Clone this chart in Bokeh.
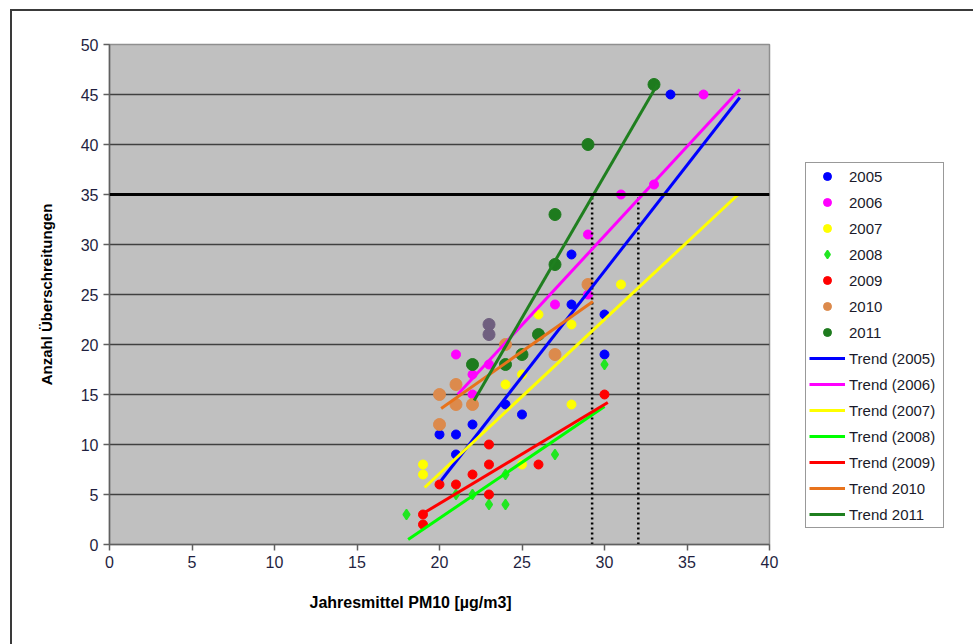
import math
from bokeh.plotting import figure
from bokeh.models import (Range1d, FixedTicker, Span, Legend, LegendItem, Title)
from bokeh.embed import file_html
from bokeh.resources import INLINE

# ---------------- data ----------------
years = ["2005", "2006", "2007", "2008", "2009", "2010", "2011"]

x2005 = [20, 21, 21, 22, 24, 25, 28, 28, 30, 30, 34]
y2005 = [11, 11, 9, 12, 14, 13, 24, 29, 23, 19, 45]
x2006 = [21, 22, 22, 23, 27, 29, 29, 31, 33, 36]
y2006 = [19, 17, 15, 18, 24, 31, 25, 35, 36, 45]
x2007 = [19, 19, 24, 25, 25, 26, 28, 28, 31]
y2007 = [8, 7, 16, 17, 8, 23, 22, 14, 26]
x2008 = [18, 21, 22, 23, 24, 24, 27, 30]
y2008 = [3, 5, 5, 4, 4, 7, 9, 18]
x2009 = [19, 19, 20, 21, 22, 23, 23, 23, 26, 30]
y2009 = [3, 2, 6, 6, 7, 8, 10, 5, 8, 15]
x2010 = [20, 20, 21, 21, 22, 24, 27, 29]
y2010 = [15, 12, 16, 14, 14, 20, 19, 26]
x2011 = [22, 24, 25, 26, 27, 27, 29, 33]
y2011 = [18, 18, 19, 21, 28, 33, 40, 46]
# 2011 points overlapping 2006 points (mixed colour in the original)
x_overlap = [23, 23]
y_overlap = [22, 21]

trend_labels = ["Trend (2005)", "Trend (2006)", "Trend (2007)", "Trend (2008)",
                "Trend (2009)", "Trend 2010", "Trend 2011"]
trend_x0 = [20.1, 21.1, 19.1, 18.1, 19.1, 20.1, 22.1]
trend_y0 = [6.4, 15.0, 5.7, 0.5, 3.2, 13.6, 14.4]
trend_x1 = [38.2, 38.2, 38.1, 30.0, 30.2, 29.3, 33.2]
trend_y1 = [44.7, 45.5, 35.0, 13.8, 14.2, 24.3, 46.0]

limit_value = 35
crossing_x = [29.25, 32.05]

x_ticks = [0, 5, 10, 15, 20, 25, 30, 35, 40]
y_ticks = [0, 5, 10, 15, 20, 25, 30, 35, 40, 45, 50]

x_title = "Jahresmittel  PM10 [µg/m3]"
y_title = "Anzahl Überschreitungen"

# ---------------- styles ----------------
FONT = "Liberation Sans"
point_colors = ["#0000ff", "#ff00ff", "#ffff00", "#22e622", "#ff0000", "#dc8a4c", "#1e7b1e"]
trend_colors = ["#0000ff", "#ff00ff", "#ffff00", "#00ff00", "#ff0000", "#e8731c", "#1f7f1f"]
overlap_color = "#6f5f7f"

p = figure(frame_width=660, frame_height=500, output_backend="svg", toolbar_location=None,
           x_range=Range1d(0, 40), y_range=Range1d(0, 50))
p.styles = {"margin-left": "10px", "margin-top": "9px",
            "border-left": "2px solid #3a3a3a", "border-top": "2px solid #3a3a3a"}
p.min_border_left = 97
p.min_border_right = 10
p.min_border_top = 33
p.min_border_bottom = 100
p.background_fill_color = "#c0c0c0"
p.border_fill_color = "white"
p.outline_line_color = "#8f8f8f"
p.outline_line_width = 1.5

p.xgrid.visible = False
p.ygrid.ticker = FixedTicker(ticks=y_ticks)
p.ygrid.grid_line_color = "#404040"
p.ygrid.grid_line_width = 1.5

for ax, ticks in ((p.xaxis[0], x_ticks), (p.yaxis[0], y_ticks)):
    ax.ticker = FixedTicker(ticks=ticks)
    ax.major_label_text_font = FONT
    ax.major_label_text_font_size = "16px"
    ax.major_label_text_color = "#1f1f3f"
    ax.axis_line_color = "#606060"
    ax.axis_line_width = 1.5
    ax.major_tick_line_color = "#606060"
    ax.major_tick_line_width = 1.5
    ax.major_tick_out = 6
    ax.major_tick_in = 0
    ax.minor_tick_line_color = None
    ax.major_label_standoff = 5

# ---------------- points ----------------
xs = [x2005, x2006, x2007, x2008, x2009, x2010, x2011]
ys = [y2005, y2006, y2007, y2008, y2009, y2010, y2011]
point_renderers = []
for i, (xv, yv) in enumerate(zip(xs, ys)):
    if years[i] == "2008":
        r = p.scatter(xv, yv, marker="diamond", size=10,
                      fill_color=point_colors[i], line_color=point_colors[i],
                      line_width=1.5)
    else:
        sz = 12 if years[i] in ("2010", "2011") else 9
        r = p.scatter(xv, yv, marker="circle", size=sz,
                      fill_color=point_colors[i], line_color=point_colors[i])
    point_renderers.append(r)
    if years[i] == "2011":
        p.scatter(x_overlap, y_overlap, marker="circle", size=12,
                  fill_color=overlap_color, line_color=overlap_color)

# ---------------- threshold ----------------
p.add_layout(Span(location=limit_value, dimension="width", line_color="black", line_width=3))
p.segment(x0=crossing_x, y0=[0] * len(crossing_x), x1=crossing_x,
          y1=[limit_value] * len(crossing_x), line_color="black", line_width=2.5,
          line_dash="2 3")

# ---------------- trend lines ----------------
trend_renderers = []
for i in range(len(trend_labels)):
    r = p.line([trend_x0[i], trend_x1[i]], [trend_y0[i], trend_y1[i]],
               line_color=trend_colors[i], line_width=3)
    trend_renderers.append(r)

# ---------------- legend ----------------
items = [LegendItem(label=years[i], renderers=[point_renderers[i]]) for i in range(len(years))]
items += [LegendItem(label=trend_labels[i], renderers=[trend_renderers[i]]) for i in range(len(trend_labels))]
legend = Legend(items=items, location=(36, 16), padding=3, spacing=6, margin=0,
                glyph_width=36, glyph_height=20, label_height=20, label_width=91,
                label_standoff=4, label_text_font=FONT, label_text_font_size="15px",
                label_text_color="#1a1a2a", border_line_color="#333333",
                border_line_width=1, background_fill_color="white",
                background_fill_alpha=1.0)
p.add_layout(legend, "right")

# ---------------- axis titles ----------------
p.add_layout(Title(text=x_title, align="left", offset=200, standoff=42,
                   text_font=FONT, text_font_size="16px", text_font_style="bold",
                   text_color="black"), "below")
p.add_layout(Title(text=y_title, align="center", standoff=45,
                   text_font=FONT, text_font_size="15px", text_font_style="bold",
                   text_color="black"), "left")

open("out.html", "w").write(file_html(p, INLINE))
